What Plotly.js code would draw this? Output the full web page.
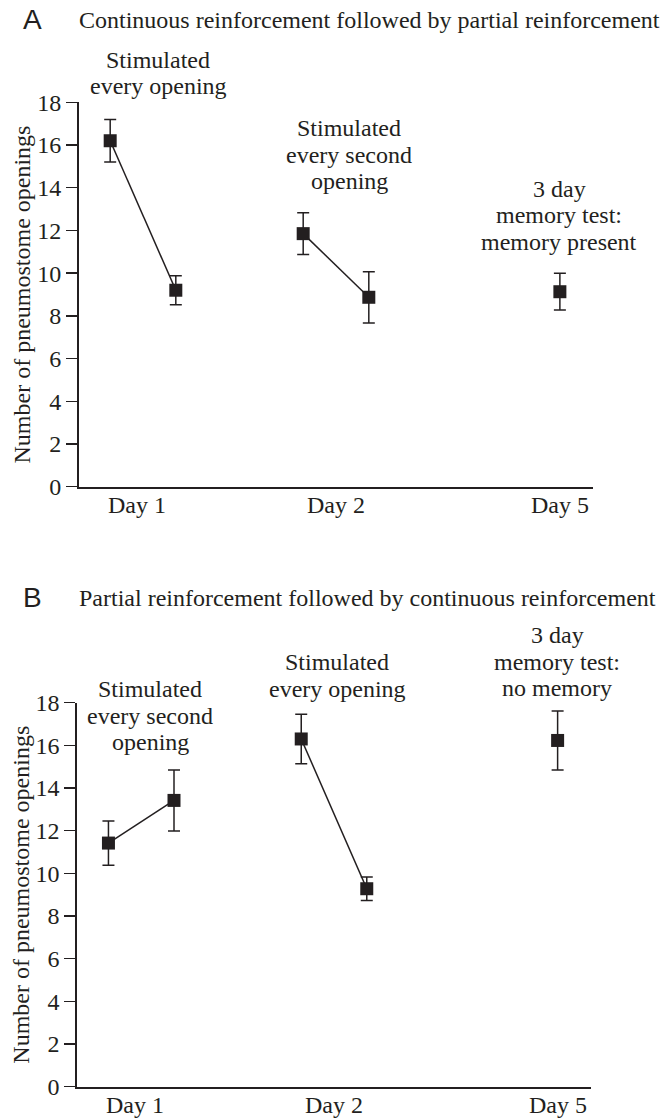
<!DOCTYPE html>
<html>
<head>
<meta charset="utf-8">
<script src="https://cdn.plot.ly/plotly-3.0.1.min.js"></script>
<style>html,body{margin:0;padding:0;background:#fff;}#chart{width:661px;height:1120px;}</style>
</head>
<body>
<div id="chart"></div>
<script>
// ---- data ----
const slotX = [0.83, 1.17, 1.83, 2.17, 3.16];     // position of each measurement
const slotGroup = [0, 0, 1, 1, 2];                // connected pairs
const dayTickVals = [0.97, 2, 3.16];
const dayTickText = ["Day 1", "Day 2", "Day 5"];
const meanA = [16.2, 9.2, 11.85, 8.87, 9.13];
const errA  = [1.0, 0.68, 0.98, 1.2, 0.86];
const meanB = [11.42, 13.42, 16.3, 9.28, 16.23];
const errB  = [1.04, 1.43, 1.16, 0.55, 1.38];
const titleA = "Continuous reinforcement followed by partial reinforcement";
const titleB = "Partial reinforcement followed by continuous reinforcement";
const yTitle = "Number of pneumostome openings";
const notesA = [["Stimulated", "every opening"], ["Stimulated", "every second", "opening"], ["3 day", "memory test:", "memory present"]];
const notesB = [["Stimulated", "every second", "opening"], ["Stimulated", "every opening"], ["3 day", "memory test:", "no memory"]];

// ---- layout helpers ----
const W = 661, H = 1120;
const INK = "#231f20";
const SERIF = "Liberation Serif, Times New Roman, serif";
const SANS = "Liberation Sans, Arial, sans-serif";
const px = x => x / W;
const py = y => 1 - y / H;

function panelTraces(mean, err, xa, ya) {
  const traces = [];
  const groups = [...new Set(slotGroup)];
  groups.forEach(g => {
    const idx = slotGroup.map((v, i) => v === g ? i : -1).filter(i => i >= 0);
    traces.push({
      type: "scatter", mode: "lines+markers",
      x: idx.map(i => slotX[i]), y: idx.map(i => mean[i]),
      xaxis: xa, yaxis: ya,
      line: {color: INK, width: 1.5},
      marker: {symbol: "square", size: 13, color: INK},
      error_y: {type: "data", array: idx.map(i => err[i]), visible: true, color: INK, thickness: 1.5, width: 6},
      cliponaxis: false, showlegend: false, hoverinfo: "skip"
    });
  });
  return traces;
}

const traces = [...panelTraces(meanA, errA, "x", "y"), ...panelTraces(meanB, errB, "x2", "y2")];

function lineNote(text, cx, baseline, size, font, anchor) {
  return {
    xref: "paper", yref: "paper", x: px(cx), y: py(baseline - size * 0.3375),
    xanchor: anchor || "center", yanchor: "middle", showarrow: false,
    text: text, font: {family: font || SERIF, size: size, color: INK}
  };
}

const annotations = [];
function addNote(lines, cx, firstBaseline, pitch) {
  lines.forEach((t, i) => annotations.push(lineNote(t, cx, firstBaseline + i * pitch, 24)));
}
// panel letters + titles
annotations.push(lineNote("A", 21, 29.3, 28, SANS, "left"));
annotations.push(lineNote(titleA, 77, 28.5, 24, SERIF, "left"));
annotations.push(lineNote("B", 21, 606.7, 28, SANS, "left"));
annotations.push(lineNote(titleB, 77, 606.5, 24, SERIF, "left"));
// condition notes
addNote(notesA[0], 158, 68, 26.5);
addNote(notesA[1], 349, 136.5, 26.5);
addNote(notesA[2], 559, 197, 26.5);
addNote(notesB[0], 150, 697.5, 26.5);
addNote(notesB[1], 337, 670.5, 26.5);
addNote(notesB[2], 557, 643.5, 26.5);
// y titles
[294.5, 894.7].forEach(cy => annotations.push({
  xref: "paper", yref: "paper", x: px(21), y: py(cy), xanchor: "center", yanchor: "middle",
  textangle: -90, showarrow: false, text: yTitle, font: {family: SERIF, size: 24, color: INK}
}));
// day labels under each x axis (placed at the axis' own data positions)
[["x", 513.5], ["x2", 1113.5]].forEach(([xr, base]) => {
  dayTickVals.forEach((v, i) => annotations.push({
    xref: xr, yref: "paper", x: v, y: py(base - 24 * 0.3375), xanchor: "center", yanchor: "middle",
    showarrow: false, text: dayTickText[i], font: {family: SERIF, size: 24, color: INK}
  }));
});

function xAxis(left, right, anchor) {
  return {
    domain: [px(left), px(right)], anchor: anchor, range: [0.6684, 3.3316],
    showline: true, linecolor: INK, linewidth: 2, showgrid: false, zeroline: false,
    ticks: "", showticklabels: false, fixedrange: true
  };
}
function yAxis(top, bottom, anchor) {
  return {
    domain: [py(bottom), py(top)], anchor: anchor, range: [0, 18], dtick: 2, tick0: 0,
    showline: true, linecolor: INK, linewidth: 2, showgrid: false, zeroline: false,
    ticks: "outside", ticklen: 11, tickwidth: 1.5, tickcolor: INK,
    tickfont: {family: SERIF, size: 24, color: INK}, fixedrange: true
  };
}

const layout = {
  width: W, height: H, margin: {l: 0, r: 0, t: 0, b: 0},
  paper_bgcolor: "#fff", plot_bgcolor: "#fff",
  xaxis: xAxis(79, 593, "y"), yaxis: yAxis(102.3, 486.7, "x"),
  xaxis2: xAxis(77.3, 590.7, "y2"), yaxis2: yAxis(702.7, 1086.7, "x2"),
  annotations: annotations, showlegend: false
};

Plotly.newPlot("chart", traces, layout, {staticPlot: true, displayModeBar: false});
</script>
</body>
</html>
